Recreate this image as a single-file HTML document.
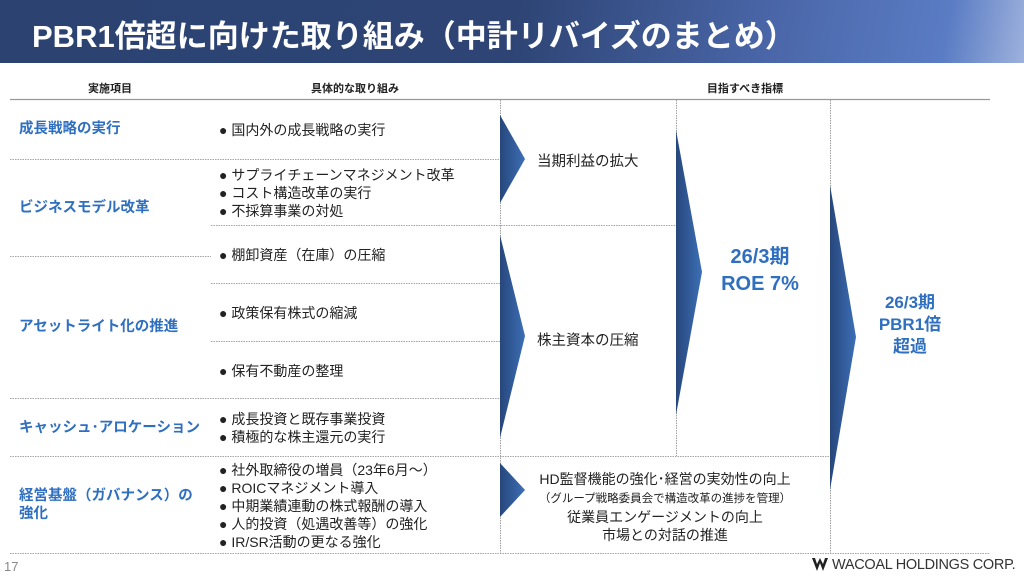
<!DOCTYPE html>
<html><head><meta charset="utf-8"><style>
body{margin:0;width:1024px;height:577px;overflow:hidden;background:#fff;position:relative;font-family:"Liberation Sans","Noto Sans CJK JP",sans-serif;color:#222}
.hdr{position:absolute;left:0;top:0;width:1024px;height:63px;background:linear-gradient(100deg,#2c4372 0%,#2d4474 50%,#4a66a8 75%,#5a7cc4 92%,#9db1dc 100%)}
.title{position:absolute;left:32px;top:11px;font-size:31px;font-weight:bold;color:#fff;white-space:nowrap;letter-spacing:0px}
.t{position:absolute;white-space:nowrap;font-size:14px;line-height:18px}
.ch{position:absolute;top:80px;font-size:11px;font-weight:bold;transform:translateX(-50%);white-space:nowrap}
.b{color:#2f6fc0;font-weight:bold;font-size:14.5px}
.big{position:absolute;color:#2f6fc0;font-weight:bold;text-align:center;transform:translateX(-50%);white-space:nowrap}
</style></head><body>
<div class="hdr"></div>
<div class="title">PBR1倍超に向けた取り組み（中計リバイズのまとめ）</div>
<div class="ch" style="left:110px">実施項目</div>
<div class="ch" style="left:355px">具体的な取り組み</div>
<div class="ch" style="left:745px">目指すべき指標</div>
<svg width="1024" height="577" style="position:absolute;left:0;top:0">
<defs><linearGradient id="g" x1="0" x2="1"><stop offset="0" stop-color="#27477c"/><stop offset="1" stop-color="#3d6fb6"/></linearGradient></defs>
<line x1="10" y1="99.5" x2="990" y2="99.5" stroke="#999" stroke-width="1.2"/>
<g stroke="#888" stroke-width="0.8" stroke-dasharray="1.5,1">
<line x1="10" y1="159.5" x2="500" y2="159.5"/>
<line x1="211" y1="225.5" x2="676" y2="225.5"/>
<line x1="10" y1="256.5" x2="211" y2="256.5"/>
<line x1="211" y1="283.5" x2="500" y2="283.5"/>
<line x1="211" y1="341.5" x2="500" y2="341.5"/>
<line x1="10" y1="398.5" x2="500" y2="398.5"/>
<line x1="10" y1="456.5" x2="830" y2="456.5"/>
<line x1="10" y1="553.5" x2="990" y2="553.5"/>
<line x1="500.5" y1="100" x2="500.5" y2="553"/>
<line x1="676.5" y1="100" x2="676.5" y2="456"/>
<line x1="830.5" y1="100" x2="830.5" y2="553"/>
</g>
<polygon points="500,115 525,159 500,203" fill="url(#g)"/>
<polygon points="500,235 525,336 500,438" fill="url(#g)"/>
<polygon points="500,463 525,490 500,517" fill="url(#g)"/>
<polygon points="676,130 702,272 676,415" fill="url(#g)"/>
<polygon points="830,185 856,337 830,490" fill="url(#g)"/>
<g fill="#222"><path d="M812,558 l5,13 l3,-8 l3,8 l5,-13 h-3 l-2,6 l-3,-6 l-3,6 l-2,-6z"/></g>
</svg>
<div class="t b" style="left:19px;top:120px">成長戦略の実行</div>
<div class="t b" style="left:19px;top:199px">ビジネスモデル改革</div>
<div class="t b" style="left:19px;top:318px">アセットライト化の推進</div>
<div class="t b" style="left:19px;top:419px">キャッシュ･アロケーション</div>
<div class="t b" style="left:19px;top:487px">経営基盤（ガバナンス）の<br>強化</div>
<div class="t" style="left:219px;top:121px">● 国内外の成長戦略の実行</div>
<div class="t" style="left:219px;top:166px">● サプライチェーンマネジメント改革<br>● コスト構造改革の実行<br>● 不採算事業の対処</div>
<div class="t" style="left:219px;top:246px">● 棚卸資産（在庫）の圧縮</div>
<div class="t" style="left:219px;top:304px">● 政策保有株式の縮減</div>
<div class="t" style="left:219px;top:362px">● 保有不動産の整理</div>
<div class="t" style="left:219px;top:410px">● 成長投資と既存事業投資<br>● 積極的な株主還元の実行</div>
<div class="t" style="left:219px;top:461px">● 社外取締役の増員（23年6月～）<br>● ROICマネジメント導入<br>● 中期業績連動の株式報酬の導入<br>● 人的投資（処遇改善等）の強化<br>● IR/SR活動の更なる強化</div>
<div class="t" style="left:537px;top:153px;font-size:14.5px">当期利益の拡大</div>
<div class="t" style="left:537px;top:332px;font-size:14.5px">株主資本の圧縮</div>
<div class="t" style="left:665px;top:470px;transform:translateX(-50%);text-align:center;font-size:14px">HD監督機能の強化･経営の実効性の向上<br><span style="font-size:11.5px">（グループ戦略委員会で構造改革の進捗を管理）</span><br>従業員エンゲージメントの向上<br>市場との対話の推進</div>
<div class="big" style="left:760px;top:244px;font-size:20px;line-height:27px">26/3期<br>ROE 7%</div>
<div class="big" style="left:910px;top:292px;font-size:17px;line-height:22px">26/3期<br>PBR1倍<br>超過</div>
<div class="t" style="left:4px;top:558px;font-size:13px;color:#888">17</div>
<div class="t" style="left:832px;top:556px;font-size:14.5px;color:#333;letter-spacing:-0.3px">WACOAL HOLDINGS CORP.</div>
</body></html>
